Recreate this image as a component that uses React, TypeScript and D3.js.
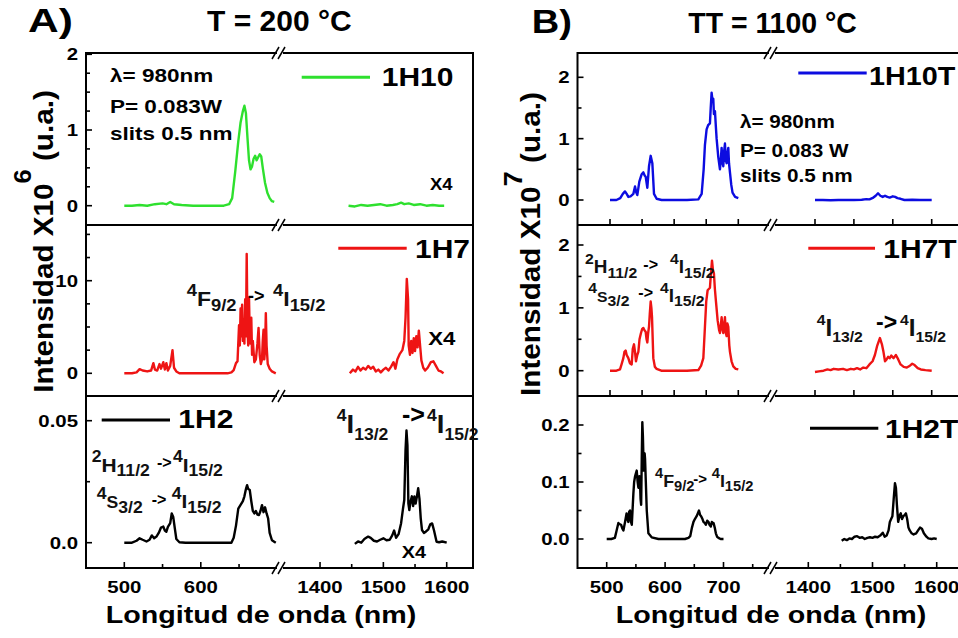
import React from "react";
import * as d3 from "d3";

type Pt = [number, number];

// ---------------- DATA (wavelength nm, intensity) ----------------
// Panel A – T = 200 °C
const h10Left: Pt[] = [[500,0],[510,0],[520,0.01],[530,0.0],[540,0.02],[550,0.03],[555,0.02],[560,0.05],[565,0.02],[575,0.01],[590,0],[610,0],[630,0],[637,0.02],[641,0.1],[645,0.45],[649,0.85],[652,1.1],[655,1.25],[657,1.32],[659,1.22],[661,0.9],[663,0.6],[665,0.48],[667,0.52],[669,0.62],[671,0.66],[673,0.6],[675,0.64],[677,0.68],[679,0.65],[681,0.5],[684,0.3],[687,0.17],[690,0.1],[693,0.06],[696,0.05]];
const h10Right: Pt[] = [[1445,0],[1455,-0.01],[1465,0.01],[1475,0.0],[1485,0.01],[1495,0.02],[1505,0.0],[1515,0.01],[1522,0.02],[1528,0.04],[1533,0.02],[1540,0.03],[1548,0.01],[1558,0.02],[1568,0.0],[1578,0.01],[1588,0.0],[1596,0]];
const h7Left: Pt[] = [[500,0],[510,0],[516,0.1],[520,0.45],[524,0.3],[530,0.2],[535,0.3],[538,1.1],[540,0.4],[543,0.3],[546,1.0],[548,0.5],[551,1.2],[553,0.4],[555,1.1],[557,0.3],[560,0.8],[563,2.5],[565,0.6],[568,0.2],[572,0.0],[580,0],[600,0],[620,0],[635,0],[640,0.1],[643,0.35],[646,1.1],[648,1.3],[650,5.2],[651,3.0],[652,7.0],[653,4.0],[654,7.4],[655,3.5],[656,5.8],[657,3.2],[658,8.0],[659,4.0],[660,12.9],[661,5.0],[662,3.0],[663,8.2],[664,4.0],[665,3.2],[666,6.0],[667,2.0],[668,3.5],[670,1.2],[672,1.5],[674,3.2],[675.5,4.9],[677,2.0],[678.5,1.0],[680,1.5],[681,3.5],[682,4.7],[683,1.5],[684,2.5],[685,6.5],[686,3.0],[687.5,1.0],[690,0.5],[693,0.2],[698,0]];
const h7Right: Pt[] = [[1447,0],[1452,0.4],[1456,0.2],[1460,0.7],[1464,0.3],[1468,0.6],[1472,0.4],[1476,0.8],[1480,0.5],[1484,0.7],[1488,0.2],[1492,0.4],[1496,0.1],[1500,0.4],[1504,0.6],[1508,0.3],[1512,0.7],[1516,1.2],[1519,0.5],[1522,1.5],[1526,2.1],[1530,2.5],[1533,3.5],[1535,6.0],[1537,10.2],[1539,8.0],[1540,3.0],[1542,2.0],[1544,3.5],[1546,2.2],[1548,3.8],[1550,2.4],[1552,4.0],[1554,2.8],[1556,4.6],[1558,3.0],[1560,1.4],[1563,0.6],[1566,0.3],[1570,0.6],[1575,1.2],[1579,1.3],[1583,0.8],[1587,0.3],[1591,0.2],[1595,0]];
const h2Left: Pt[] = [[500,0],[510,0],[516,0.0008],[520,0.0018],[524,0.0012],[529,0.0005],[533,0.0012],[536,0.003],[539,0.0018],[542,0.0025],[545,0.004],[548,0.0062],[551,0.0066],[553,0.005],[555,0.0045],[557,0.0065],[560,0.008],[562,0.012],[564,0.0105],[566,0.006],[568,0.0015],[572,0.0002],[580,0],[600,0],[620,0],[640,0],[643,0.002],[646,0.007],[649,0.014],[652,0.0155],[655,0.017],[657,0.019],[659,0.022],[660.5,0.0236],[662,0.022],[664,0.0216],[666,0.017],[668,0.013],[670,0.012],[672,0.013],[674,0.0115],[676,0.0113],[678,0.013],[680,0.0154],[682,0.0125],[684,0.0145],[686,0.012],[688,0.01],[690,0.004],[693,0.001],[698,0]];
const h2Right: Pt[] = [[1455,-0.0005],[1460,0.0005],[1465,0.0],[1470,0.0015],[1476,0.0025],[1480,0.002],[1485,0.0008],[1490,0.0005],[1495,0.0012],[1500,0.0018],[1505,0.001],[1510,0.0012],[1514,0.003],[1517,0.005],[1520,0.002],[1524,0.0035],[1528,0.008],[1531,0.014],[1533,0.0175],[1535,0.038],[1536.5,0.046],[1538,0.04],[1539.5,0.016],[1541,0.0134],[1543,0.017],[1545,0.019],[1547,0.015],[1549,0.019],[1551,0.016],[1553,0.019],[1555,0.0223],[1557,0.018],[1559,0.01],[1561,0.0052],[1564,0.004],[1567,0.0045],[1571,0.0055],[1574,0.0075],[1577,0.0079],[1580,0.005],[1584,0.0004],[1588,0.0002],[1593,0.0005],[1600,0]];

// Panel B – TT = 1100 °C
const h10tLeft: Pt[] = [[500,0],[510,0],[516,0.03],[520,0.1],[523.4,0.14],[526,0.1],[528.6,0.05],[532,0.06],[536.4,0.1],[539,0.22],[541,0.12],[542.6,0.08],[545.7,0.3],[549.4,0.42],[552,0.45],[554,0.4],[555.6,0.38],[558.2,0.2],[560.8,0.55],[563.4,0.72],[566,0.6],[568.6,0.1],[572.7,0.02],[580.5,0],[600,0],[620,0],[637.7,0.01],[642.9,0.1],[646,0.5],[648,0.9],[650.6,1.15],[653,1.22],[655.8,1.25],[657,1.5],[658.4,1.75],[660,1.6],[661,1.65],[662,1.4],[663.6,1.45],[665,1.2],[666.2,1.0],[668.8,0.7],[671.4,0.5],[673,0.7],[674,0.85],[675.5,0.6],[676.6,0.55],[678,0.8],[679.2,0.92],[680.5,0.65],[681.8,0.6],[683,0.75],[684.4,0.85],[685.5,0.6],[687,0.45],[689,0.25],[691,0.12],[695,0.05],[700,0.03]];
const h10tRight: Pt[] = [[1450,0],[1460,0],[1470,-0.005],[1480,0],[1490,0],[1500,0.0],[1510,0.005],[1516,0.015],[1520,0.01],[1525,0.04],[1528,0.07],[1531,0.11],[1534,0.07],[1537,0.05],[1540,0.07],[1543,0.05],[1546,0.04],[1550,0.06],[1553,0.05],[1556,0.03],[1560,0.02],[1565,0.0],[1575,0.005],[1585,0],[1600,0]];
const h7tLeft: Pt[] = [[500,0],[510,0],[515.6,0.02],[518,0.1],[520.8,0.2],[522.5,0.3],[524.4,0.32],[526,0.25],[528.6,0.2],[531,0.12],[533.8,0.1],[535.5,0.35],[537.4,0.42],[539,0.3],[540.5,0.15],[542.5,0.25],[544.2,0.3],[546,0.5],[548.3,0.6],[550,0.66],[552,0.68],[554,0.64],[555.6,0.62],[557,0.5],[558.2,0.45],[559.5,0.6],[560.8,0.7],[562,0.9],[563.4,1.1],[564.5,1.0],[565.5,0.85],[567.5,0.2],[570,0.06],[572.7,0.03],[580,0],[600,0],[620,0],[637.7,0.01],[642,0.08],[645.5,0.2],[648,0.7],[650,1.1],[652.2,1.28],[654,1.3],[655.8,1.32],[657,1.5],[659,1.75],[660.5,1.6],[662,1.55],[663.5,1.3],[665.2,1.1],[667.8,0.8],[670,0.65],[671.4,0.6],[673,0.75],[674,0.85],[675.5,0.65],[676.6,0.6],[678,0.75],[679.2,0.85],[680.5,0.6],[681.8,0.55],[683,0.75],[684.4,0.7],[686,0.4],[687,0.3],[689.5,0.15],[692.2,0.07],[696,0.03],[700,0.02]];
const h7tRight: Pt[] = [[1450,-0.02],[1455,-0.01],[1461,0.0],[1466,0.02],[1470,0.01],[1474,0.03],[1480,0.02],[1486,0.03],[1491,0.01],[1496,0.03],[1500,0.02],[1504,0.04],[1508,0.02],[1512,0.05],[1516,0.04],[1520,0.1],[1524,0.15],[1527,0.25],[1530,0.4],[1533.5,0.52],[1536,0.42],[1538,0.3],[1540,0.15],[1542,0.18],[1544,0.22],[1546,0.2],[1548,0.24],[1551,0.2],[1554,0.25],[1557,0.18],[1560,0.1],[1564,0.06],[1568,0.05],[1572,0.08],[1575,0.11],[1578,0.09],[1582,0.04],[1586,0.02],[1592,0.01],[1600,0]];
const h2tLeft: Pt[] = [[500,0],[508,0],[514,0.002],[517,0.015],[520,0.028],[522,0.026],[524.6,0.025],[527,0.018],[528.6,0.015],[531.4,0.03],[534,0.045],[535.5,0.035],[537,0.03],[538.5,0.048],[540,0.05],[541.5,0.03],[543,0.025],[545.7,0.08],[547,0.1],[548.6,0.11],[550,0.115],[551.4,0.12],[553,0.1],[554.3,0.09],[556,0.11],[557,0.1],[558,0.07],[559,0.06],[560,0.14],[561,0.205],[562,0.18],[563.4,0.12],[565,0.15],[565.7,0.14],[567,0.1],[568.6,0.05],[571.4,0.01],[577,0.003],[588.6,0],[600,0],[620,0],[634,0],[640,0.002],[643,0.005],[646,0.02],[648.6,0.03],[651,0.035],[654,0.04],[656,0.045],[658,0.05],[660,0.042],[661.7,0.04],[664,0.035],[665.7,0.03],[668,0.028],[669.7,0.025],[672,0.032],[674.3,0.03],[676,0.025],[678.3,0.022],[680,0.03],[681.5,0.027],[683,0.028],[685,0.02],[686.9,0.01],[689,0.004],[691.4,0.002],[695,0],[700,0]];
const h2tRight: Pt[] = [[1452,-0.003],[1456,0],[1460,-0.002],[1464,0.001],[1468,0.0],[1472,0.004],[1476,0.005],[1480,0.002],[1484,0.003],[1488,0.0],[1492,0.002],[1496,0.003],[1500,0.002],[1504,0.004],[1508,0.003],[1512,0.006],[1516,0.011],[1519,0.004],[1522,0.006],[1525,0.015],[1527,0.03],[1529,0.035],[1531,0.04],[1533,0.07],[1535,0.098],[1536.5,0.09],[1538,0.06],[1540,0.03],[1542,0.04],[1544,0.045],[1546,0.035],[1548,0.04],[1550,0.042],[1552,0.045],[1554,0.035],[1556,0.02],[1558,0.015],[1561,0.01],[1564,0.008],[1568,0.01],[1571,0.015],[1574,0.02],[1577,0.018],[1580,0.01],[1584,0.004],[1587,0.001],[1592,0],[1596,0.001],[1600,0]];

const namesA = ["1H10", "1H7", "1H2"];
const namesB = ["1H10T", "1H7T", "1H2T"];

// tick values
const xTicksLA = [500, 550, 600, 650];
const xLabLA = [500, 600];
const xTicksRA = [1400, 1450, 1500, 1550, 1600];
const xLabRA = [1400, 1500, 1600];
const xTicksLB = [500, 550, 600, 650, 700, 750];
const xLabLB = [500, 600, 700];
const xTicksRB = [1400, 1450, 1500, 1550, 1600];
const xLabRB = [1400, 1500, 1600];
const xTicksLBup = [500, 550, 600, 650, 700];
const xTicksRBup = [1450, 1500, 1550, 1600];

const yTicksA1 = [0, 0.25, 0.5, 0.75, 1, 1.25, 1.5, 1.75, 2];
const yLabA1 = [0, 1, 2];
const yTicksA2 = [0, 2.5, 5, 7.5, 10, 12.5, 15];
const yLabA2 = [0, 10];
const yTicksA3 = [0, 0.025, 0.05];
const yLabA3 = [0, 0.05];
const yTicksB1 = [0, 0.5, 1, 1.5, 2];
const yLabB1 = [0, 1, 2];
const yTicksB2 = [0, 0.5, 1, 1.5, 2];
const yLabB2 = [0, 1, 2];
const yTicksB3 = [0, 0.05, 0.1, 0.15, 0.2];
const yLabB3 = [0, 0.1, 0.2];

// ---------------- STYLE ----------------
const FONT = "'Liberation Sans', Arial, Helvetica, sans-serif";
const GREEN = "#2ee02e";
const RED = "#ee1414";
const BLUE = "#0c0ce0";
const BLACK = "#000000";
const SX = 1.2;

const ROWS = [53, 225, 396, 568];

type TProps = { x: number; y: number; size: number; sx?: number; anchor?: string; rotate?: number; children: React.ReactNode; fill?: string };
const Txt = ({ x, y, size, sx = SX, anchor = "start", rotate = 0, children, fill = "#000" }: TProps) => (
  <text
    transform={`translate(${x},${y}) rotate(${rotate}) scale(${sx},1)`}
    fontSize={size}
    fontWeight="bold"
    fontFamily={FONT}
    textAnchor={anchor as any}
    fill={fill}
  >
    {children}
  </text>
);

type TermProps = { x: number; y: number; sup: string; main: string; sub: string; ms: number; ss: number; mainSize?: number; sx?: number };
const Term = ({ x, y, sup, main, sub, ms, ss, mainSize, sx = 1.15 }: TermProps) => (
  <text transform={`translate(${x},${y}) scale(${sx},1)`} fontFamily={FONT} fontWeight="bold" fill="#111">
    <tspan fontSize={ss} dy={-ms * 0.5}>{sup}</tspan>
    <tspan fontSize={mainSize ?? ms} dy={ms * 0.5}>{main}</tspan>
    <tspan fontSize={ss} dy={ms * 0.25}>{sub}</tspan>
  </text>
);

type Panel = {
  top: number; bot: number;
  yCal: [number, number, number, number];
  yTicks: number[]; yLabels: number[]; fmt: (v: number) => string;
  left: Pt[]; right: Pt[]; color: string; name: string;
  leg: { x1: number; x2: number; y: number; tx: number; ty: number; sx?: number };
  xl: d3.ScaleLinear<number, number>; xr: d3.ScaleLinear<number, number>;
  xTicksL: number[]; xTicksR: number[]; xLabL: number[]; xLabR: number[]; showXLabels: boolean; showXTicks: boolean;
};

const fmtInt = (v: number) => d3.format("d")(v);
const fmtA3 = (v: number) => (v === 0 ? "0.0" : String(v));
const fmtB3 = (v: number) => d3.format(".1f")(v);

export default function App() {
  const xLA = d3.scaleLinear().domain([500, 700]).range([124.3, 277.3]);
  const xRA = d3.scaleLinear().domain([1450, 1600]).range([351.7, 446.7]);
  const xLBu = d3.scaleLinear().domain([500, 700]).range([610, 738.3]);
  const xRBu = d3.scaleLinear().domain([1450, 1600]).range([815, 931.7]);
  const xLB = d3.scaleLinear().domain([500, 700]).range([606.7, 723.5]);
  const xRB = d3.scaleLinear().domain([1400, 1600]).range([808.3, 936.7]);

  const frameA = { l: 86, r: 473, brk: 280 };
  const frameB = { l: 577.5, r: 966, brk: 772 };

  const panelsA: Panel[] = [
    { top: ROWS[0], bot: ROWS[1], yCal: [0, 2, 205.7, 54.3], yTicks: yTicksA1, yLabels: yLabA1, fmt: fmtInt, left: h10Left, right: h10Right, color: GREEN, name: namesA[0], leg: { x1: 301.7, x2: 370, y: 77.3, tx: 381.7, ty: 86 }, xl: xLA, xr: xRA, xTicksL: [], xTicksR: [], xLabL: [], xLabR: [], showXLabels: false, showXTicks: false },
    { top: ROWS[1], bot: ROWS[2], yCal: [0, 10, 373.3, 280.7], yTicks: yTicksA2, yLabels: yLabA2, fmt: fmtInt, left: h7Left, right: h7Right, color: RED, name: namesA[1], leg: { x1: 338.3, x2: 406.7, y: 248.3, tx: 415, ty: 258.3 }, xl: xLA, xr: xRA, xTicksL: [], xTicksR: [], xLabL: [], xLabR: [], showXLabels: false, showXTicks: false },
    { top: ROWS[2], bot: ROWS[3], yCal: [0, 0.05, 542.7, 420.7], yTicks: yTicksA3, yLabels: yLabA3, fmt: fmtA3, left: h2Left, right: h2Right, color: BLACK, name: namesA[2], leg: { x1: 101.7, x2: 170, y: 420, tx: 178.3, ty: 428.3 }, xl: xLA, xr: xRA, xTicksL: xTicksLA, xTicksR: xTicksRA, xLabL: xLabLA, xLabR: xLabRA, showXLabels: true, showXTicks: true },
  ];
  const panelsB: Panel[] = [
    { top: ROWS[0], bot: ROWS[1], yCal: [0, 2, 200, 77.3], yTicks: yTicksB1, yLabels: yLabB1, fmt: fmtInt, left: h10tLeft, right: h10tRight, color: BLUE, name: namesB[0], leg: { x1: 798.3, x2: 866.7, y: 73, tx: 869, ty: 85, sx: 1.15 }, xl: xLBu, xr: xRBu, xTicksL: xTicksLBup, xTicksR: xTicksRBup, xLabL: [], xLabR: [], showXLabels: false, showXTicks: true },
    { top: ROWS[1], bot: ROWS[2], yCal: [0, 2, 370.7, 245], yTicks: yTicksB2, yLabels: yLabB2, fmt: fmtInt, left: h7tLeft, right: h7tRight, color: RED, name: namesB[1], leg: { x1: 808.3, x2: 875, y: 248.3, tx: 883.3, ty: 258.3 }, xl: xLBu, xr: xRBu, xTicksL: xTicksLBup, xTicksR: xTicksRBup, xLabL: [], xLabR: [], showXLabels: false, showXTicks: true },
    { top: ROWS[2], bot: ROWS[3], yCal: [0, 0.2, 539, 425], yTicks: yTicksB3, yLabels: yLabB3, fmt: fmtB3, left: h2tLeft, right: h2tRight, color: BLACK, name: namesB[2], leg: { x1: 810, x2: 878.3, y: 428.3, tx: 885, ty: 438.3 }, xl: xLB, xr: xRB, xTicksL: xTicksLB, xTicksR: xTicksRB, xLabL: xLabLB, xLabR: xLabRB, showXLabels: true, showXTicks: true },
  ];

  const renderPanel = (p: Panel, fr: { l: number; r: number; brk: number }, key: string) => {
    const ys = d3.scaleLinear().domain([p.yCal[0], p.yCal[1]]).range([p.yCal[2], p.yCal[3]]);
    const lineL = d3.line<Pt>().x((d) => p.xl(d[0])).y((d) => ys(d[1]));
    const lineR = d3.line<Pt>().x((d) => p.xr(d[0])).y((d) => ys(d[1]));
    const isMajorY = (v: number) => p.yLabels.some((l) => Math.abs(l - v) < 1e-9);
    return (
      <g key={key}>
        {p.yTicks.map((v) => (
          <line key={"yt" + v} x1={fr.l} x2={fr.l + (isMajorY(v) ? 6 : 4)} y1={ys(v)} y2={ys(v)} stroke="#000" strokeWidth={1.6} />
        ))}
        {p.yLabels.map((v) => (
          <Txt key={"yl" + v} x={fr.l - 8} y={ys(v) + 6} size={17} anchor="end">{p.fmt(v)}</Txt>
        ))}
        {p.showXTicks && p.xTicksL.map((v) => (
          <line key={"xtl" + v} x1={p.xl(v)} x2={p.xl(v)} y1={p.bot} y2={p.bot - (p.xLabL.includes(v) || !p.showXLabels ? 6 : 4)} stroke="#000" strokeWidth={1.6} />
        ))}
        {p.showXTicks && p.xTicksR.map((v) => (
          <line key={"xtr" + v} x1={p.xr(v)} x2={p.xr(v)} y1={p.bot} y2={p.bot - (p.xLabR.includes(v) || !p.showXLabels ? 6 : 4)} stroke="#000" strokeWidth={1.6} />
        ))}
        {p.showXLabels && p.xLabL.map((v) => (
          <Txt key={"xll" + v} x={p.xl(v)} y={593.3} size={17} anchor="middle">{String(v)}</Txt>
        ))}
        {p.showXLabels && p.xLabR.map((v) => (
          <Txt key={"xlr" + v} x={p.xr(v)} y={593.3} size={17} anchor="middle">{String(v)}</Txt>
        ))}
        <path d={lineL(p.left) ?? ""} fill="none" stroke={p.color} strokeWidth={2.4} strokeLinejoin="round" />
        <path d={lineR(p.right) ?? ""} fill="none" stroke={p.color} strokeWidth={2.4} strokeLinejoin="round" />
        <line x1={p.leg.x1} x2={p.leg.x2} y1={p.leg.y} y2={p.leg.y} stroke={p.color} strokeWidth={3} />
        <Txt x={p.leg.tx} y={p.leg.ty} size={25} sx={p.leg.sx ?? SX}>{p.name}</Txt>
      </g>
    );
  };

  const renderFrame = (fr: { l: number; r: number; brk: number }, key: string) => (
    <g key={key}>
      <rect x={fr.l} y={ROWS[0]} width={fr.r - fr.l} height={ROWS[3] - ROWS[0]} fill="none" stroke="#000" strokeWidth={2} />
      {ROWS.slice(1, 3).map((y) => (
        <line key={"sep" + y} x1={fr.l} x2={fr.r} y1={y} y2={y} stroke="#000" strokeWidth={2} />
      ))}
      {ROWS.map((y) => (
        <g key={"brk" + y}>
          <rect x={fr.brk - 3} y={y - 2} width={6} height={4} fill="#fff" />
          <line x1={fr.brk - 8} y1={y + 6} x2={fr.brk - 1} y2={y - 6} stroke="#000" strokeWidth={1.5} />
          <line x1={fr.brk - 2} y1={y + 6} x2={fr.brk + 5} y2={y - 6} stroke="#000" strokeWidth={1.5} />
        </g>
      ))}
    </g>
  );

  return (
    <svg width={958} height={638} viewBox="0 0 958 638" style={{ display: "block", position: "absolute", left: 0, top: 0, background: "#fff" }}>
      <rect x={0} y={0} width={958} height={638} fill="#fff" />
      <Txt x={28} y={31.5} size={34} sx={1.25}>A)</Txt>
      <Txt x={207} y={30.7} size={30} sx={1.0}>T = 200 °C</Txt>
      <Txt x={531.7} y={33.3} size={34} sx={1.12}>B)</Txt>
      <Txt x={688.3} y={33.3} size={29} sx={0.98}>TT = 1100 °C</Txt>

      {panelsA.map((p, i) => renderPanel(p, frameA, "a" + i))}
      {panelsB.map((p, i) => renderPanel(p, frameB, "b" + i))}
      {renderFrame(frameA, "fa")}
      {renderFrame(frameB, "fb")}

      <Txt x={261} y={623.3} size={23.5} sx={1.22} anchor="middle">Longitud de onda (nm)</Txt>
      <Txt x={771} y={623.3} size={23.5} sx={1.22} anchor="middle">Longitud de onda (nm)</Txt>
      <text transform="translate(53,241.5) rotate(-90) scale(1.06,1)" fontFamily={FONT} fontWeight="bold" fontSize={28} textAnchor="middle">
        Intensidad X10<tspan fontSize={24} dy={-22}>6</tspan><tspan dy={22}> (u.a.)</tspan>
      </text>
      <text transform="translate(540,244) rotate(-90) scale(1.06,1)" fontFamily={FONT} fontWeight="bold" fontSize={28} textAnchor="middle">
        Intensidad X10<tspan fontSize={26} dy={-18}>7</tspan><tspan dy={18}> (u.a.)</tspan>
      </text>

      <Txt x={110} y={81.7} size={18} sx={1.25}>λ= 980nm</Txt>
      <Txt x={110} y={113.3} size={18} sx={1.25}>P= 0.083W</Txt>
      <Txt x={110} y={140} size={18} sx={1.25}>slits 0.5 nm</Txt>
      <Txt x={430} y={190} size={16} sx={1.15}>X4</Txt>

      <Term x={186.7} y={306} sup="4" main="F" sub="9/2" ms={20} ss={16} sx={1.15} />
      <Txt x={248} y={302} size={18} sx={1.0}>-&gt;</Txt>
      <Term x={273} y={306} sup="4" main="I" sub="15/2" ms={20} ss={16} sx={1.15} />
      <Txt x={428.3} y={345} size={18.5} sx={1.2}>X4</Txt>

      <Term x={91.7} y={471.7} sup="2" main="H" sub="11/2" ms={19} ss={16} sx={1.1} />
      <Txt x={157} y={468} size={16} sx={1.0}>-&gt;</Txt>
      <Term x={173} y={471.7} sup="4" main="I" sub="15/2" ms={19} ss={16} sx={1.1} />
      <Term x={96.7} y={508.3} sup="4" main="S" sub="3/2" ms={19} ss={16} mainSize={16} sx={1.1} />
      <Txt x={151.7} y={505} size={16} sx={1.0}>-&gt;</Txt>
      <Term x={171.7} y={508.3} sup="4" main="I" sub="15/2" ms={19} ss={16} sx={1.1} />

      <Term x={336.7} y={433.3} sup="4" main="I" sub="13/2" ms={25} ss={16} sx={1.1} />
      <Txt x={402} y={423.3} size={25} sx={1.0}>-&gt;</Txt>
      <Term x={427} y={433.3} sup="4" main="I" sub="15/2" ms={25} ss={16} sx={1.1} />
      <Txt x={401.7} y={558.3} size={16.5} sx={1.2}>X4</Txt>

      <Txt x={740} y={128.3} size={18} sx={1.15}>λ= 980nm</Txt>
      <Txt x={740} y={156.7} size={18} sx={1.15}>P= 0.083 W</Txt>
      <Txt x={740} y={181.7} size={18} sx={1.15}>slits 0.5 nm</Txt>

      <Term x={585} y={273.3} sup="2" main="H" sub="11/2" ms={18} ss={15} sx={1.05} />
      <Txt x={643.3} y={270} size={16} sx={1.0}>-&gt;</Txt>
      <Term x={670} y={273.3} sup="4" main="I" sub="15/2" ms={18} ss={15} sx={1.05} />
      <Term x={588.3} y={301.7} sup="4" main="S" sub="3/2" ms={18} ss={15} mainSize={15} sx={1.05} />
      <Txt x={638.3} y={298} size={16} sx={1.0}>-&gt;</Txt>
      <Term x={660} y={301.7} sup="4" main="I" sub="15/2" ms={18} ss={15} sx={1.05} />

      <Term x={816.7} y={336} sup="4" main="I" sub="13/2" ms={23} ss={15} sx={1.05} />
      <Txt x={876} y={330} size={23} sx={1.0}>-&gt;</Txt>
      <Term x={900} y={336} sup="4" main="I" sub="15/2" ms={23} ss={15} sx={1.05} />

      <Term x={655} y={486.7} sup="4" main="F" sub="9/2" ms={17} ss={14} sx={1.05} />
      <Txt x={693.3} y={484} size={15} sx={1.0}>-&gt;</Txt>
      <Term x={711.7} y={486.7} sup="4" main="I" sub="15/2" ms={17} ss={14} sx={1.05} />
    </svg>
  );
}
